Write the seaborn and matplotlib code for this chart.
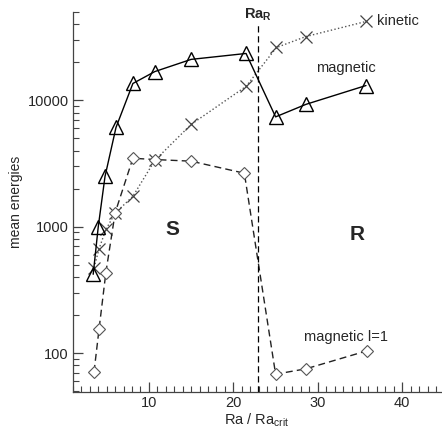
import matplotlib
matplotlib.use("Agg")
import matplotlib.pyplot as plt
import seaborn as sns
from matplotlib.ticker import LogLocator, MultipleLocator, NullFormatter, FixedLocator, FixedFormatter

sns.set_style("ticks")
plt.rcParams['font.family'] = ['Liberation Sans', 'DejaVu Sans']

# data
ra_mag = [3.4, 4.0, 4.8, 6.1, 8.1, 10.7, 15.0, 21.5, 25.0, 28.6, 35.7]
e_mag = [420, 1000, 2500, 6100, 13600, 16900, 21100, 23500, 7400, 9300, 13100]
ra_kin = [3.5, 4.1, 4.9, 6.0, 8.1, 10.7, 15.0, 21.5, 25.1, 28.6, 35.7]
e_kin = [474, 670, 950, 1280, 1740, 3350, 6450, 12900, 26200, 32000, 42100]
ra_l1 = [3.5, 4.1, 4.9, 6.0, 8.1, 10.7, 15.0, 21.3, 25.0, 28.6, 35.8]
e_l1 = [71, 156, 433, 1290, 3480, 3400, 3300, 2650, 68, 75, 104]
ra_R = 22.9
xticks = [10, 20, 30, 40]
yticks = [100, 1000, 10000]

fig = plt.figure(figsize=(4.42, 4.30), dpi=100)
ax = fig.add_axes([0.165, 0.088, 0.833, 0.884])

sns.lineplot(x=ra_kin, y=e_kin, ax=ax, color='#555555', linestyle=':', lw=1.0,
             marker='x', markersize=9, markeredgewidth=0.9, markeredgecolor='#444444')
sns.lineplot(x=ra_l1, y=e_l1, ax=ax, color='#222222', linestyle=(0, (5, 3)), lw=1.0,
             marker='D', markersize=6.5, markerfacecolor='white', markeredgecolor='#555555',
             markeredgewidth=0.8)
sns.lineplot(x=ra_mag, y=e_mag, ax=ax, color='black', linestyle='-', lw=1.0,
             marker='^', markersize=10, markerfacecolor='none', markeredgecolor='black',
             markeredgewidth=1.0)

ax.axvline(ra_R, ymax=0.974, color='black', linestyle=(0, (5, 3)), lw=0.9)

ax.set_yscale('log')
ax.set_xlim(1.0, 44.6)
ax.set_ylim(49, 50000)

ax.xaxis.set_major_locator(FixedLocator(xticks))
ax.xaxis.set_major_formatter(FixedFormatter([str(t) for t in xticks]))
ax.xaxis.set_minor_locator(MultipleLocator(1))
ax.yaxis.set_major_locator(FixedLocator(yticks))
ax.yaxis.set_major_formatter(FixedFormatter([str(t) for t in yticks]))
ax.yaxis.set_minor_locator(LogLocator(base=10, subs=range(2, 10)))
ax.yaxis.set_minor_formatter(NullFormatter())

ax.tick_params(which='both', direction='in', color='#444444', labelsize=10.5)
ax.tick_params(axis='x', pad=3)
ax.tick_params(axis='y', pad=3)
ax.tick_params(which='major', length=7, width=0.9)
ax.tick_params(which='minor', length=4, width=0.8)

for s in ['top', 'right']:
    ax.spines[s].set_visible(False)
for s in ['left', 'bottom']:
    ax.spines[s].set_color('#444444')
    ax.spines[s].set_linewidth(0.9)

ax.set_xlabel(r'Ra / Ra$_{\mathregular{crit}}$', fontsize=10.5, labelpad=1)
ax.set_ylabel('mean energies', fontsize=10, labelpad=3)

ax.text(ra_R, 0.994, r'Ra$_{\mathregular{R}}$', transform=ax.get_xaxis_transform(),
        ha='center', va='center', fontsize=10.5, fontweight='bold')
ax.text(37.0, 42100, 'kinetic', fontsize=10.5, ha='left', va='center')
ax.text(33.3, 17900, 'magnetic', fontsize=10.5, ha='center', va='center')
ax.text(33.3, 134, 'magnetic l=1', fontsize=10.5, ha='center', va='center')
ax.text(12.8, 950, 'S', fontsize=15, fontweight='bold', ha='center', va='center')
ax.text(34.7, 865, 'R', fontsize=15, fontweight='bold', ha='center', va='center')

fig.savefig('out.png', dpi=100)
